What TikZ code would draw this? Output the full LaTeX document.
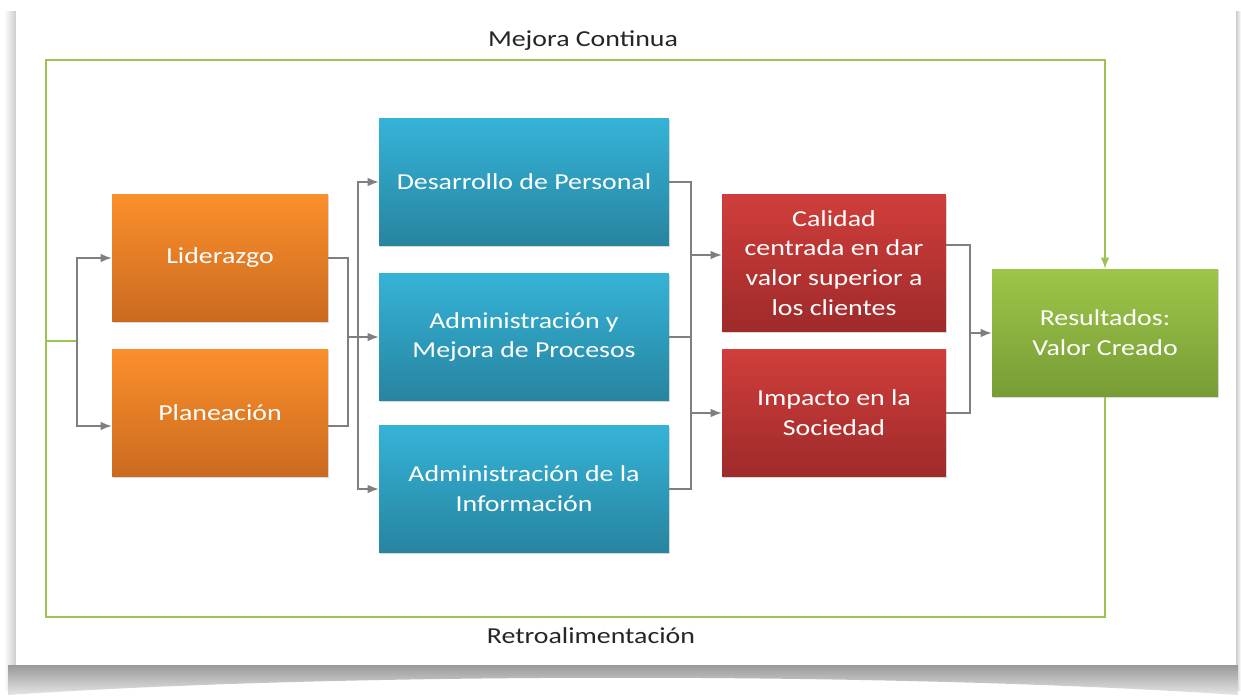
\documentclass[tikz,border=0pt]{standalone}
\usepackage{fontspec}
\setmainfont{Carlito}[FakeStretch=1.22]
\usetikzlibrary{arrows.meta,shadows}

\definecolor{orangetop}{HTML}{FB8F2C}
\definecolor{orangebot}{HTML}{CB6A1F}
\definecolor{bluetop}{HTML}{35B3D7}
\definecolor{bluebot}{HTML}{2784A0}
\definecolor{redtop}{HTML}{D03E3B}
\definecolor{redbot}{HTML}{9E2A2A}
\definecolor{greentop}{HTML}{9DC649}
\definecolor{greenbot}{HTML}{779C36}
\definecolor{loopgreen}{HTML}{9BC550}
\definecolor{linkgray}{HTML}{7F7F7F}

\tikzset{
  box/.style={rectangle, text=white, align=center, inner sep=2pt,
    font=\fontsize{13}{17}\selectfont,
    drop shadow={opacity=0.3, shadow xshift=0.6pt, shadow yshift=-0.8pt}},
  orangebox/.style={box, top color=orangetop, bottom color=orangebot,
    minimum width=4.32cm, minimum height=2.56cm},
  bluebox/.style={box, top color=bluetop, bottom color=bluebot,
    minimum width=5.8cm, minimum height=2.54cm},
  redbox/.style={box, top color=redtop, bottom color=redbot,
    minimum width=4.48cm},
  greenbox/.style={box, top color=greentop, bottom color=greenbot,
    minimum width=4.52cm, minimum height=2.56cm},
  link/.style={draw=linkgray, line width=0.7pt},
  arrow/.style={link, -{Latex[length=2.2mm, width=1.7mm]}},
  loop/.style={draw=loopgreen, line width=0.8pt}
}

\begin{document}
\begin{tikzpicture}[x=0.02cm, y=-0.02cm]
        % Paper and its shadow
        \useasboundingbox (0,0) rectangle (1241,696);
        \fill[white] (0,0) rectangle (1241,696);
        \shade[left color=white, right color=gray!40] (4,12) rectangle (16,690);
        \shade[left color=gray!40, right color=white] (1236,12) rectangle (1241,690);
        \shade[top color=gray!80, bottom color=gray!20] (8,665) -- (1238,665) -- (1238,695)
            .. controls (900,672) and (340,672) .. (8,695) -- cycle;
        \fill[white] (16,0) rectangle (1236,665);

        % Define the boxes
        \node[orangebox] (lid) at (220,258) {Liderazgo};
        \node[orangebox] (plan) at (220,413) {Planeación};

        \node[bluebox] (des) at (524,182) {Desarrollo de Personal};
        \node[bluebox] (adm) at (524,337) {Administración y\\Mejora de Procesos};
        \node[bluebox] (info) at (524,489) {Administración de la\\Información};

        \node[redbox, minimum height=2.74cm] (cal) at (834,263) {Calidad\\centrada en dar\\valor superior a\\los clientes};
        \node[redbox, minimum height=2.56cm] (imp) at (834,413) {Impacto en la\\Sociedad};

        \node[greenbox] (res) at (1105,333) {Resultados:\\Valor Creado};

        % Define the labels
        \node[font=\fontsize{13}{17}\selectfont, text=black!85] (mc) at (583,41) {Mejora Continua};
        \node[font=\fontsize{13}{17}\selectfont, text=black!85] (retro) at (591,636) {Retroalimentación};

        % Define the joints
        \coordinate (sw) at (46,617);
        \coordinate (nw) at (46,60);
        \coordinate (in) at (46,341);
        \coordinate (s1) at (77,341);
        \coordinate (j1) at (348,337);
        \coordinate (j2) at (358,337);
        \coordinate (j3) at (691,337);
        \coordinate (j4) at (970,333);

        % Define the feedback loop
        \draw[loop, -{Latex[length=2.2mm, width=1.7mm]}] (res.south) |- (sw) -- (nw) -| (res.north);
        \draw[loop] (in) -- (s1);

        % Define the edges
        \draw[arrow] (s1) |- (lid.west);
        \draw[arrow] (s1) |- ([yshift=-0.26cm]plan.west);
        \draw[link] (lid.east) -| (j1);
        \draw[link] ([yshift=-0.26cm]plan.east) -| (j1);
        \draw[arrow] (j1) -- (adm.west);
        \draw[arrow] (j2) |- (des.west);
        \draw[arrow] (j2) |- (info.west);

        \draw[link] (des.east) -| (j3);
        \draw[link] (info.east) -| (j3);
        \draw[link] (adm.east) -- (j3);
        \draw[arrow] (j3) |- ([yshift=0.16cm]cal.west);
        \draw[arrow] (j3) |- (imp.west);

        \draw[link] ([yshift=0.36cm]cal.east) -| (j4);
        \draw[link] (imp.east) -| (j4);
        \draw[arrow] (j4) -- (res.west);

    \end{tikzpicture}
\end{document}
